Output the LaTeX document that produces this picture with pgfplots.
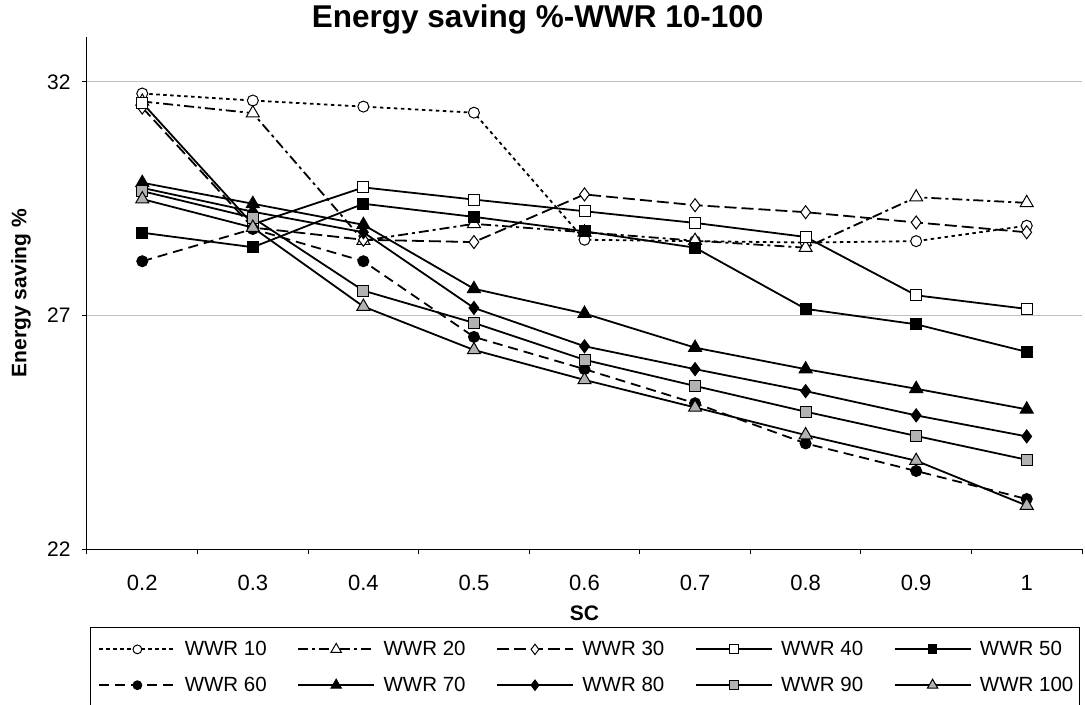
\documentclass[border=0pt]{standalone}
\usepackage{fontspec}
\setmainfont{Liberation Sans}
\usepackage{pgfplots}
\pgfplotsset{compat=1.18}
\definecolor{markgray}{RGB}{178,178,178}
\definecolor{gridgray}{RGB}{192,192,192}
\newcommand{\legtxt}[1]{\makebox[96pt][l]{\hspace{6.5pt}\fontsize{20.5}{24}\selectfont #1}}

\begin{document}
\begin{tikzpicture}
\begin{axis}[
    scale only axis,
    width=995pt, height=512pt,
    xmin=-0.5, xmax=8.5, ymin=22, ymax=32.96,
    axis lines=left,
    axis line style={-, line width=1pt},
    tick align=outside,
    major tick length=5pt,
    tick style={black, line width=1pt},
    xtick={-0.5,0.5,...,8.5},
    xticklabels={},
    extra x ticks={0,1,2,3,4,5,6,7,8},
    extra x tick labels={0.2,0.3,0.4,0.5,0.6,0.7,0.8,0.9,1},
    extra x tick style={major tick length=0pt, xticklabel style={yshift=-23pt, font=\fontsize{22}{26}\selectfont}},
    ytick={22,27,32},
    ymajorgrids,
    grid style={gridgray, line width=0.8pt},
    /pgf/number format/assume math mode=true,
    yticklabel style={xshift=-8pt, font=\fontsize{21}{25}\selectfont},
    ylabel={Energy saving \%},
    ylabel style={font=\bfseries\fontsize{21}{25}\selectfont, at={(axis description cs:-0.0663,0.5)}, anchor=center},
    xlabel={SC},
    xlabel style={font=\bfseries\fontsize{21}{25}\selectfont, at={(axis description cs:0.5,-0.1387)}, anchor=base},
    title={Energy saving \%-WWR 10-100},
    title style={font=\bfseries\fontsize{31.5}{35}\selectfont, at={(axis description cs:0.453,1.0078)}, anchor=base},
    ser/.style={line width=1.8pt, black},
    mk/.style={mark options={solid, draw=black, line width=1pt, fill=#1}},
    legend columns=5,
    legend style={at={(axis description cs:0.003,-0.1523)}, anchor=north west,
        draw=black, line width=1pt, inner xsep=8pt, inner ysep=12pt,
        row sep=16pt,
        cells={anchor=west},
        /tikz/every even column/.append style={column sep=21pt}},
    legend image code/.code={%
        \draw[mark repeat=2, mark phase=2, #1, every mark/.append style={scale=0.8}]
        plot coordinates {(0pt,0pt) (38pt,0pt) (76pt,0pt)};},
]
% WWR 10
\addplot[ser, dash pattern=on 3.5pt off 3.5pt, mark=*, mark size=5.5pt, mk=white] coordinates {
(0,31.75) (1,31.60) (2,31.47) (3,31.34) (4,28.62) (5,28.59) (6,28.56) (7,28.59) (8,28.92)};
\addlegendentry{\legtxt{WWR 10}}
% WWR 20
\addplot[ser, dash pattern=on 10pt off 4pt on 3pt off 4pt, mark=triangle*, mark size=7.5pt, mk=white] coordinates {
(0,31.58) (1,31.33) (2,28.60) (3,28.96) (4,28.78) (5,28.60) (6,28.45) (7,29.53) (8,29.41)};
\addlegendentry{\legtxt{WWR 20}}
% WWR 30
\addplot[ser, dash pattern=on 12pt off 5pt, mark=diamond*, mark size=6.5pt, mk=white] coordinates {
(0,31.45) (1,28.88) (2,28.62) (3,28.57) (4,29.59) (5,29.36) (6,29.21) (7,28.99) (8,28.78)};
\addlegendentry{\legtxt{WWR 30}}
% WWR 40
\addplot[ser, solid, mark=square*, mark size=5.5pt, mk=white] coordinates {
(0,31.55) (1,28.95) (2,29.74) (3,29.48) (4,29.23) (5,28.98) (6,28.68) (7,27.43) (8,27.14)};
\addlegendentry{\legtxt{WWR 40}}
% WWR 50
\addplot[ser, solid, mark=square*, mark size=5.5pt, mk=black] coordinates {
(0,28.77) (1,28.46) (2,29.39) (3,29.11) (4,28.80) (5,28.45) (6,27.14) (7,26.81) (8,26.22)};
\addlegendentry{\legtxt{WWR 50}}
% WWR 60
\addplot[ser, dash pattern=on 10pt off 6pt, mark=*, mark size=5.5pt, mk=black] coordinates {
(0,28.16) (1,28.85) (2,28.16) (3,26.54) (4,25.85) (5,25.12) (6,24.26) (7,23.67) (8,23.07)};
\addlegendentry{\legtxt{WWR 60}}
% WWR 70
\addplot[ser, solid, mark=triangle*, mark size=7.5pt, mk=black] coordinates {
(0,29.84) (1,29.39) (2,28.94) (3,27.57) (4,27.04) (5,26.31) (6,25.85) (7,25.43) (8,24.99)};
\addlegendentry{\legtxt{WWR 70}}
% WWR 80
\addplot[ser, solid, mark=diamond*, mark size=6.5pt, mk=black] coordinates {
(0,29.73) (1,29.22) (2,28.78) (3,27.16) (4,26.34) (5,25.85) (6,25.38) (7,24.86) (8,24.41)};
\addlegendentry{\legtxt{WWR 80}}
% WWR 90
\addplot[ser, solid, mark=square*, mark size=5.5pt, mk=markgray] coordinates {
(0,29.66) (1,29.09) (2,27.53) (3,26.84) (4,26.05) (5,25.49) (6,24.94) (7,24.42) (8,23.91)};
\addlegendentry{\legtxt{WWR 90}}
% WWR 100
\addplot[ser, solid, mark=triangle*, mark size=7.5pt, mk=markgray] coordinates {
(0,29.49) (1,28.88) (2,27.19) (3,26.26) (4,25.62) (5,25.03) (6,24.44) (7,23.89) (8,22.93)};
\addlegendentry{\legtxt{WWR 100}}
\end{axis}
\pgfresetboundingbox
\path[use as bounding box] ([shift={(-87pt,-155pt)}]current axis.south west) rectangle ([shift={(3pt,37pt)}]current axis.north east);
\end{tikzpicture}
\end{document}
